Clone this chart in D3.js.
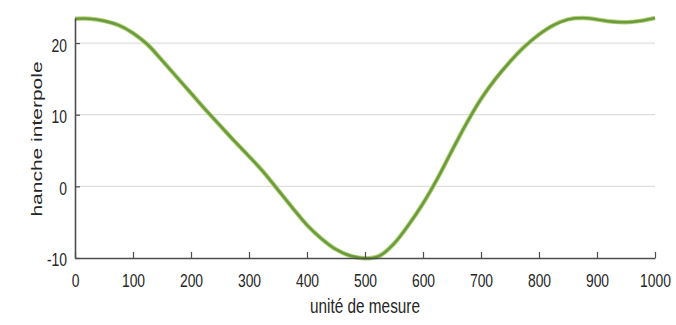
<!DOCTYPE html>
<html>
<head>
<meta charset="utf-8">
<script src="https://cdn.jsdelivr.net/npm/d3@7"></script>
<style>
  body { margin: 0; background: #fff; }
  svg { display: block; }
  .tick text { font-family: "Liberation Sans", Arial, sans-serif; font-size: 19px; fill: #262626; }
</style>
</head>
<body>
<div id="chart"></div>
<script>
const WIDTH = 676;
const HEIGHT = 325;
const SQUEEZE = 0.73; // the source text looks narrow

const xValues = [0, 25, 50, 75, 100, 125, 150, 175, 200, 225, 250, 275, 300, 325, 350, 375, 400,
  425, 450, 475, 500, 525, 550, 575, 600, 625, 650, 675, 700, 725, 750, 775, 800, 825, 850,
  875, 900, 925, 950, 975, 1000];
const yValues = [23.4, 23.4, 23.1, 22.5, 21.4, 19.8, 17.6, 15.3, 13.0, 10.7, 8.5, 6.3, 4.2, 2.0,
  -0.5, -3.0, -5.4, -7.3, -8.8, -9.7, -10.05, -9.7, -8.0, -5.4, -2.4, 1.1, 5.0, 8.8, 12.2, 15.0,
  17.4, 19.5, 21.2, 22.5, 23.3, 23.5, 23.3, 23.0, 22.9, 23.1, 23.5];
const xTicks = [0, 100, 200, 300, 400, 500, 600, 700, 800, 900, 1000];
const yTicks = [-10, 0, 10, 20];
const xLabel = 'unité de mesure';
const yLabel = 'hanche interpole';

const margin = { top: 18, right: 21, bottom: 67, left: 75 };
const innerW = WIDTH - margin.left - margin.right;
const innerH = HEIGHT - margin.top - margin.bottom;

const points = xValues.map((x, i) => ({ x: x, y: yValues[i] }));

const x = d3.scaleLinear().domain([0, 1000]).range([0, innerW]);
const y = d3.scaleLinear().domain([-10, 23.5]).range([innerH, 0]);

const svg = d3
  .select('#chart')
  .append('svg')
  .attr('width', WIDTH)
  .attr('height', HEIGHT);

const g = svg.append('g').attr('transform', `translate(${margin.left},${margin.top})`);

// horizontal grid
g.append('g')
  .selectAll('line')
  .data(yTicks.filter((t) => t > -10))
  .join('line')
  .attr('x1', 0)
  .attr('x2', innerW)
  .attr('y1', (d) => y(d))
  .attr('y2', (d) => y(d))
  .attr('stroke', '#dedede')
  .attr('stroke-width', 1.2);

// curve
const line = d3
  .line()
  .x((d) => x(d.x))
  .y((d) => y(d.y))
  .curve(d3.curveCatmullRom.alpha(0.5));

g.append('path')
  .datum(points)
  .attr('fill', 'none')
  .attr('stroke', '#b5d37e')
  .attr('stroke-width', 4.5)
  .attr('d', line);

g.append('path')
  .datum(points)
  .attr('fill', 'none')
  .attr('stroke', '#6b9b3c')
  .attr('stroke-width', 2.6)
  .attr('d', line);

// axes
const xAxis = g
  .append('g')
  .attr('transform', `translate(0,${innerH})`)
  .call(
    d3.axisBottom(x)
      .tickValues(xTicks)
      .tickFormat((d) => String(d))
      .tickSizeInner(-6)
      .tickSizeOuter(0)
      .tickPadding(16)
  );

const yAxis = g
  .append('g')
  .call(
    d3.axisLeft(y)
      .tickValues(yTicks)
      .tickFormat((d) => String(d))
      .tickSizeInner(-5)
      .tickSizeOuter(0)
  );

[xAxis, yAxis].forEach((ax) => {
  ax.select('.domain').attr('stroke', '#4d4d4d').attr('stroke-width', 1.6);
  ax.selectAll('.tick line').attr('stroke', '#4d4d4d').attr('stroke-width', 1.2);
});

xAxis.selectAll('.tick text').attr('transform', `scale(${SQUEEZE},1)`);
yAxis
  .selectAll('.tick text')
  .attr('x', 0)
  .attr('dy', '0.42em')
  .attr('transform', `translate(-8,0) scale(${SQUEEZE},1)`);

// axis titles
svg.append('text')
  .attr('transform', `translate(${margin.left + innerW / 2},${HEIGHT - 12}) scale(${SQUEEZE},1)`)
  .attr('text-anchor', 'middle')
  .style('font-family', '"Liberation Sans", Arial, sans-serif')
  .style('font-size', '21px')
  .attr('fill', '#262626')
  .text(xLabel);

svg.append('text')
  .attr('transform', `translate(42,139) rotate(-90) scale(1,${SQUEEZE})`)
  .attr('text-anchor', 'middle')
  .style('font-family', '"Liberation Sans", Arial, sans-serif')
  .style('font-size', '21px')
  .attr('fill', '#262626')
  .text(yLabel);
</script>
</body>
</html>
